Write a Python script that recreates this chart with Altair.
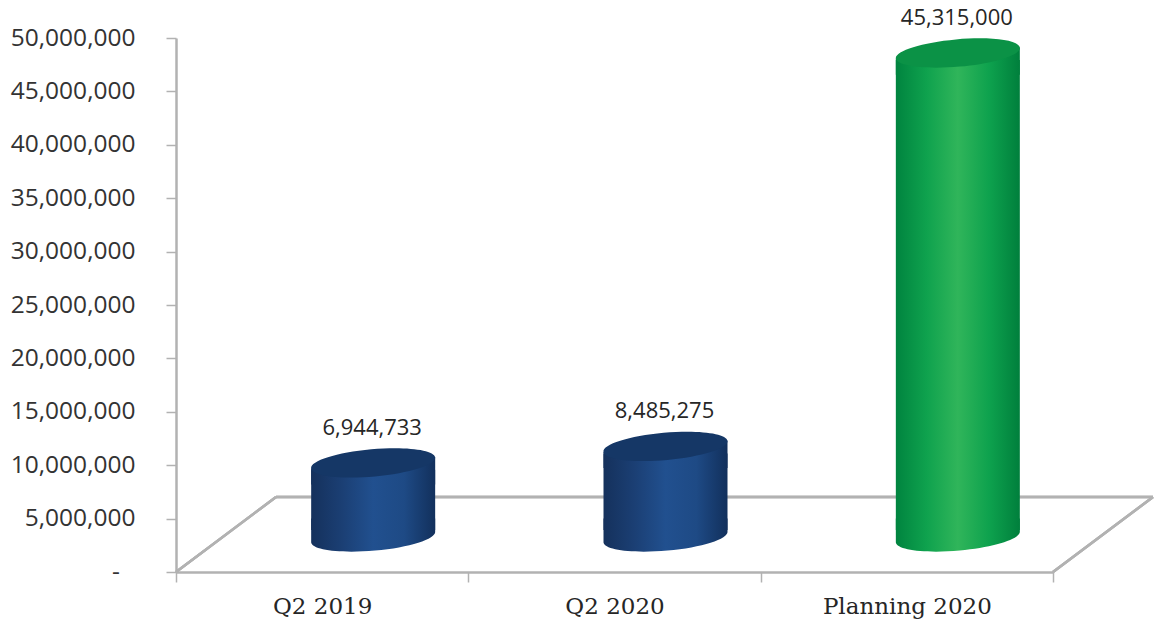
import altair as alt
import pandas as pd

categories = ["Q2 2019", "Q2 2020", "Planning 2020"]
values = [6944733, 8485275, 45315000]
groups = ["actual", "actual", "plan"]
y_ticks = [0, 5000000, 10000000, 15000000, 20000000, 25000000, 30000000, 35000000, 40000000, 45000000, 50000000]

PLOT_W, PLOT_H = 877, 534
DEPTH_X, DEPTH_Y = 100, 75
GREY = "#b2b2b2"

# Fill ramps for each cylinder family: side wall and top cap
side_stops = {
    "actual": ["#15315c", "#1b3f74", "#21508f", "#1e4a85", "#12305c"],
    "plan": ["#00843f", "#0fa24e", "#30b55a", "#0ea24e", "#007f3c"],
}
cap_fill = {"actual": "#153766", "plan": "#0b9246"}

TILT = "0.09"
ELLIPSE = f"M-1,{TILT} A1,0.22,-5,1,1,1,-{TILT} A1,0.22,-5,1,1,-1,{TILT} Z"
# Wall pieces whose open edge follows the tilt of the ellipse
LOWER_CAP = f"M-1,{TILT} A1,0.22,-5,0,0,1,-{TILT} L1,-0.3 L-1,-0.3 Z"
UPPER_WALL = f"M-1,{TILT} L1,-{TILT} L1,0.35 L-1,0.35 Z"

CYL_DX, CYL_DY = 51, -35
CYL_W = 124
CAP_SIZE = CYL_W ** 2

data = pd.DataFrame({"category": categories, "value": values, "group": groups})

x_enc = alt.X("category:N", sort=categories, title=None, scale=alt.Scale(domain=categories, paddingInner=0, paddingOuter=0))
y_enc = alt.Y("value:Q", title=None, scale=alt.Scale(domain=[0, 50000000], nice=False))

axes = (
    alt.Chart(data)
    .mark_point(opacity=0)
    .encode(
        x=alt.X(
            "category:N", sort=categories, title=None,
            scale=alt.Scale(domain=categories, paddingInner=0, paddingOuter=0),
            axis=alt.Axis(
                labelAngle=0, labelFont="DejaVu Serif", labelFontSize=23, labelColor="#262626",
                domainColor=GREY, domainWidth=2.5, tickColor=GREY, tickWidth=1.5, tickSize=10,
                tickBand="extent", labelPadding=13, grid=False,
            ),
        ),
        y=alt.Y(
            "value:Q", title=None,
            scale=alt.Scale(domain=[0, 50000000], nice=False),
            axis=alt.Axis(
                values=y_ticks, labelFont="Open Sans", labelFontSize=24.5, labelColor="#333333",
                labelExpr="datum.value === 0 ? '' : format(datum.value, ',')",
                domainColor=GREY, domainWidth=2.5, tickColor=GREY, tickWidth=1.5, tickSize=10,
                labelPadding=31, grid=False,
            ),
        ),
    )
)

# The zero tick reads as an accounting dash, set in from the other labels
zero_label = (
    alt.Chart(pd.DataFrame({"value": [0], "text": ["-"]}))
    .mark_text(font="Open Sans", fontSize=24.5, color="#333333", baseline="middle", yOffset=1)
    .encode(x=alt.value(-60), y=y_enc, text="text:N")
)


def floor_edge(x0, y0, x1, y1):
    return alt.Chart(data).mark_rule(color=GREY, strokeWidth=2.5).encode(
        x=alt.value(x0), y=alt.value(y0), x2=alt.value(x1), y2=alt.value(y1)
    )


floor = [
    floor_edge(0, PLOT_H, DEPTH_X, PLOT_H - DEPTH_Y),
    floor_edge(DEPTH_X, PLOT_H - DEPTH_Y, PLOT_W + DEPTH_X, PLOT_H - DEPTH_Y),
    floor_edge(PLOT_W + DEPTH_X, PLOT_H - DEPTH_Y, PLOT_W, PLOT_H),
]


def wall_gradient(group):
    colors = side_stops[group]
    n = len(colors) - 1
    return alt.LinearGradient(
        gradient="linear", x1=0, x2=1, y1=0, y2=0,
        stops=[alt.GradientStop(offset=i / n, color=c) for i, c in enumerate(colors)],
    )


def symbol_layer(source, y_field, shape, fill):
    return (
        alt.Chart(source)
        .mark_point(
            shape=shape, size=CAP_SIZE, fill=fill, filled=True, opacity=1, strokeWidth=0,
            xOffset=CYL_DX, yOffset=CYL_DY,
        )
        .encode(x=x_enc, y=alt.Y(y_field, title=None, scale=alt.Scale(domain=[0, 50000000], nice=False)))
    )


cylinders = []
for group in ["actual", "plan"]:
    subset = data[data["group"] == group].assign(base=0)
    grad = wall_gradient(group)
    wall = (
        alt.Chart(subset)
        .mark_bar(
            width=CYL_W, fill=grad, xOffset=CYL_DX, x2Offset=CYL_DX,
            yOffset=CYL_DY + 7, y2Offset=CYL_DY - 7,
        )
        .encode(x=x_enc, y=y_enc, y2=alt.Y2("base:Q"))
    )
    cylinders += [
        wall,
        symbol_layer(subset, "base:Q", LOWER_CAP, grad),
        symbol_layer(subset, "value:Q", UPPER_WALL, grad),
        symbol_layer(subset, "value:Q", ELLIPSE, cap_fill[group]),
    ]

labels = (
    alt.Chart(data)
    .mark_text(font="Open Sans", fontSize=22, color="#262626", xOffset=50, yOffset=CYL_DY - 35, baseline="middle")
    .encode(x=x_enc, y=y_enc, text=alt.Text("value:Q", format=","))
)

chart = (
    alt.layer(axes, *floor, *cylinders, labels, zero_label)
    .properties(
        width=PLOT_W,
        height=PLOT_H,
        autosize=alt.AutoSizeParams(type="none"),
        padding={"left": 176, "top": 38, "right": 108, "bottom": 54},
        background="white",
    )
    .configure_view(stroke=None)
)

chart.save("out.html", embed_options={"renderer": "svg", "actions": False})
